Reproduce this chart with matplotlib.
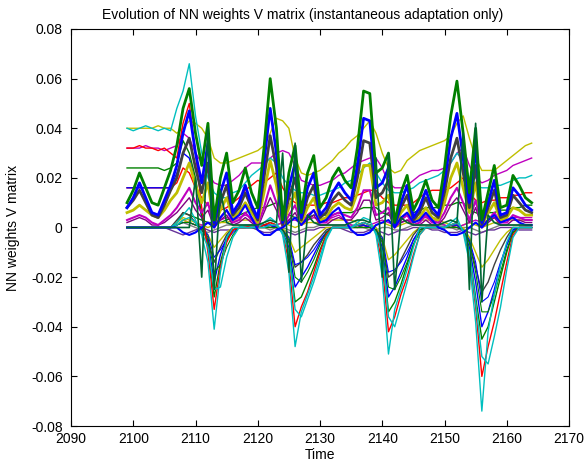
import numpy as np
import matplotlib
matplotlib.use("Agg")
import matplotlib.pyplot as plt

# -----------------------------------------------------
# DATA  (weights in units of 1e-3, one value per time step)
# -----------------------------------------------------
time = np.arange(2099, 2165)
UNIT = 1e-3

# oscillating weights (thick)
green_osc = [10, 15, 22, 16, 10, 9, 16, 23, 33, 48, 56,
             38, 25, 42, 3, 20, 30, 10, 15, 24, 14, 8,
             32, 60, 40, 3, 22, 33, 6, 22, 29, 8, 12,
             20, 24, 19, 16, 32, 55, 54, 22, 24, 30, 2,
             14, 21, 7, 12, 19, 11, 8, 24, 45, 59, 38,
             14, 40, 3, 14, 25, 8, 9, 21, 17, 12, 10]
blue_osc = [8, 12, 18, 12, 6, 5, 11, 17, 25, 38, 47,
            30, 18, 34, 2, 14, 22, 6, 10, 17, 9, 4,
            26, 48, 30, 2, 16, 26, 4, 16, 22, 5, 8,
            14, 18, 14, 11, 25, 44, 43, 16, 18, 24, 1,
            10, 17, 4, 8, 15, 8, 5, 18, 36, 46, 28,
            10, 32, 2, 10, 19, 5, 6, 16, 13, 9, 7]
gray_osc = [8, 11, 15, 10, 5, 4, 9, 15, 20, 30, 36,
            24, 14, 26, 1, 10, 17, 5, 8, 14, 8, 3,
            20, 37, 24, 1, 12, 20, 3, 12, 17, 4, 6,
            11, 14, 11, 9, 20, 35, 34, 12, 14, 19, 1,
            8, 13, 3, 6, 12, 6, 4, 14, 28, 36, 22,
            8, 25, 1, 8, 15, 4, 5, 13, 10, 7, 6]
yellow_osc = [6, 7, 9, 7, 5, 4, 7, 11, 14, 20, 26,
              17, 10, 18, 1, 7, 12, 4, 6, 10, 6, 2,
              14, 27, 17, 1, 8, 14, 2, 8, 12, 3, 4,
              8, 10, 8, 7, 14, 25, 25, 9, 10, 13, 1,
              6, 9, 2, 4, 8, 4, 3, 10, 20, 26, 16,
              6, 18, 1, 6, 10, 3, 4, 8, 7, 5, 5]
magenta_osc = [3, 4, 5, 4, 2, 1, 3, 5, 8, 12, 16,
               10, 6, 10, 0, 4, 7, 2, 3, 6, 3, 1,
               8, 17, 10, 0, 5, 9, 1, 5, 7, 2, 2,
               5, 6, 5, 4, 8, 15, 15, 5, 6, 8, 0,
               3, 5, 1, 2, 5, 2, 2, 6, 12, 16, 10,
               3, 11, 0, 3, 6, 2, 2, 5, 4, 3, 3]
purple_osc = [2, 3, 4, 3, 1, 1, 2, 4, 6, 9, 12,
              7, 4, 7, 0, 3, 5, 1, 2, 4, 2, 0,
              6, 12, 7, 0, 3, 6, 1, 3, 5, 1, 1,
              3, 4, 3, 3, 6, 11, 11, 3, 4, 6, 0,
              2, 3, 1, 1, 3, 1, 1, 4, 9, 12, 7,
              2, 8, 0, 2, 4, 1, 1, 3, 3, 2, 2]
blue_low = [0, 0, 0, 0, 0, 0, 0, 0, 0, -2, -3,
            -2, 0, 2, 0, 4, 7, 3, 5, 9, 4, -1,
            -3, -3, -1, 0, 2, 4, 1, 4, 7, 2, 3,
            6, 8, 3, -1, -3, -3, -2, 1, 2, 3, 0,
            4, 6, 2, 3, 6, 3, 0, -1, -3, -3, -2,
            0, 2, 0, 3, 5, 2, 3, 4, 2, 1, 1]

# slowly drifting weights
cyan_slow = [40, 39, 40, 41, 40, 39, 40, 39, 48, 55, 66,
             45, 30, 20, 14, 12, 12, 14, 15, 18, 21, 23,
             25, 28, 26, 20, 17, 15, 14, 14, 13, 13, 14,
             15, 16, 18, 19, 21, 24, 26, 22, 18, 15, 14,
             14, 15, 16, 18, 19, 20, 21, 23, 26, 30, 27,
             20, 17, 16, 16, 17, 17, 18, 19, 20, 20, 21]
yellow_slow = [40, 40, 40, 40, 40, 41, 40, 40, 38, 40, 43,
               42, 40, 36, 28, 26, 26, 27, 28, 29, 30, 31,
               33, 38, 44, 43, 40, 28, 22, 21, 22, 23, 25,
               27, 30, 32, 35, 37, 40, 43, 38, 30, 24, 22,
               23, 27, 29, 31, 32, 33, 34, 35, 37, 42, 45,
               36, 28, 23, 23, 23, 25, 27, 29, 31, 33, 34]
magenta_slow = [32, 32, 32, 33, 32, 32, 31, 32, 33, 38, 36,
                30, 26, 22, 18, 17, 17, 19, 21, 24, 26, 26,
                26, 28, 30, 31, 30, 25, 19, 18, 17, 17, 18,
                19, 21, 22, 24, 26, 27, 28, 28, 24, 18, 16,
                16, 17, 19, 21, 22, 23, 23, 24, 26, 30, 32,
                25, 20, 18, 19, 21, 22, 23, 25, 26, 27, 28]
red_slow = [16, 16, 16, 16, 16, 16, 16, 16, 18, 24, 22,
            16, 12, 9, 7, 7, 8, 10, 12, 15, 17, 19,
            18, 20, 22, 16, 12, 10, 9, 9, 9, 9, 10,
            10, 11, 12, 12, 13, 14, 15, 15, 12, 10, 9,
            9, 9, 10, 12, 14, 15, 15, 15, 16, 18, 20,
            14, 11, 10, 11, 11, 12, 12, 13, 13, 14, 14]
green_slow = [0, 0, 0, 0, 0, 0, 0, 0, 2, 6, 5,
              4, 3, 2, 2, 2, 3, 4, 5, 6, 7, 8,
              8, 9, 10, 7, 5, 4, 4, 4, 5, 5, 5,
              5, 6, 6, 6, 7, 8, 8, 8, 6, 5, 4,
              4, 5, 6, 7, 8, 8, 8, 9, 9, 10, 10,
              7, 6, 5, 6, 6, 7, 7, 8, 8, 9, 9]

# weights with deep negative excursions
cyan_dip = [0, 0, 0, 0, 0, 0, 0, 0, 2, 5, 8,
            3, -3, -14, -41, -18, -4, 0, 0, 1, 1, 0,
            2, 4, 2, -3, -18, -48, -34, -27, -20, -12, -4,
            0, 0, 0, 0, 2, 4, 3, -3, -20, -51, -33,
            -25, -17, -8, 0, 0, 0, 0, 0, 2, 4, -2,
            -14, -38, -74, -42, -27, -15, -6, 0, 0, 0, 0]
cyan_dip2 = [0, 0, 0, 0, 0, 0, 0, 0, 1, 3, 4,
             2, -2, -8, -25, -24, -12, -4, 0, 0, 0, 0,
             0, 1, 1, -2, -10, -33, -36, -29, -22, -14, -5,
             0, 0, 0, 0, 1, 2, 1, -2, -10, -36, -40,
             -31, -22, -12, -3, 0, 0, 0, 0, 1, 2, -1,
             -10, -30, -52, -55, -44, -32, -17, -4, 0, 0, 0]
red_dip = [32, 32, 33, 32, 32, 31, 32, 30, 28, 42, 50,
           30, 8, -10, -33, -16, -6, -1, 0, 0, 1, 0,
           1, 2, 1, -2, -14, -40, -32, -26, -18, -10, -3,
           0, 0, 0, 0, 1, 2, 1, -2, -15, -42, -36,
           -27, -20, -11, -3, 0, 0, 0, 0, 1, 2, -1,
           -12, -32, -60, -48, -38, -26, -14, -3, 0, 0, 0]
green_dip = [24, 24, 24, 24, 24, 24, 23, 24, 26, 35, 30,
             20, 5, -8, -28, -14, -5, -1, 0, 0, 0, 0,
             1, 2, 1, -2, -10, -30, -28, -22, -16, -9, -3,
             0, 0, 0, 0, 1, 2, 1, -1, -10, -34, -30,
             -23, -15, -7, -1, 0, 0, 0, 0, 1, 2, -1,
             -10, -28, -45, -40, -30, -20, -10, -2, 0, 0, 0]
green_dip2 = [0, 0, 0, 0, 0, 0, 0, 0, 1, 2, 2,
              1, 0, -4, -18, -15, -8, -3, 0, 0, 0, 0,
              0, 0, 0, -1, -5, -20, -22, -18, -13, -7, -2,
              0, 0, 0, 0, 0, 0, 0, -1, -5, -24, -25,
              -20, -14, -7, -2, 0, 0, 0, 0, 0, 0, -1,
              -6, -18, -34, -34, -27, -18, -9, -2, 0, 0, 0]
blue_dip = [16, 16, 16, 16, 16, 16, 16, 16, 22, 30, 28,
            18, 4, -6, -22, -11, -4, -1, 0, 0, 0, 0,
            1, 1, 0, -2, -8, -24, -20, -16, -11, -6, -2,
            0, 0, 0, 0, 1, 1, 0, -1, -8, -28, -24,
            -18, -12, -5, -1, 0, 0, 0, 0, 1, 1, -1,
            -8, -22, -40, -34, -25, -15, -7, -1, 0, 0, 0]
blue_dip2 = [0, 0, 0, 0, 0, 0, 0, 0, 1, 2, 2,
             1, 0, -3, -12, -9, -5, -2, 0, 0, 0, 0,
             0, 0, 0, -1, -4, -15, -14, -12, -9, -5, -2,
             0, 0, 0, 0, 0, 0, 0, -1, -4, -18, -17,
             -14, -10, -5, -1, 0, 0, 0, 0, 0, 0, -1,
             -5, -14, -30, -28, -22, -14, -7, -1, 0, 0, 0]
gray_dip = [0, 0, 0, 0, 0, 0, 0, 0, 3, 6, 5,
            2, -1, -5, -14, -8, -3, 0, 0, 0, 0, 0,
            0, 1, 0, -1, -6, -16, -14, -11, -7, -4, -1,
            0, 0, 0, 0, 0, 1, 0, -1, -6, -20, -18,
            -13, -8, -3, 0, 0, 0, 0, 0, 0, 1, -1,
            -6, -16, -26, -22, -15, -9, -4, 0, 0, 0, 0]
yellow_dip = [0, 0, 0, 0, 0, 0, 0, 0, 1, 3, 2,
              1, 0, -3, -8, -5, -2, 0, 0, 0, 0, 0,
              0, 0, 0, 0, -4, -10, -8, -6, -4, -2, 0,
              0, 0, 0, 0, 0, 0, 0, 0, -4, -13, -11,
              -8, -5, -2, 0, 0, 0, 0, 0, 0, 0, 0,
              -4, -10, -16, -13, -9, -5, -2, 0, 0, 0, 0]

# fast spiking weight
green_spike = [0, 0, 0, 0, 0, 0, 0, 0, 0, 0, 0,
               20, -20, 40, -25, 15, 2, 1, 1, 1, 1, 1,
               2, 3, 2, 30, -18, 34, -22, 5, 2, 1, 1,
               1, 1, 1, 2, 3, 3, 2, 28, -20, 30, -25,
               4, 2, 1, 1, 1, 1, 1, 2, 3, 2, 38,
               -25, 42, -30, 5, 2, 1, 1, 1, 1, 1, 1]

# weights staying close to zero
zero_a = [0, 0, 0, 0, 0, 0, 0, 0, 1, 2, 1,
          0, -1, -2, -1, 0, 1, 1, 1, 1, 1, 0,
          0, -1, 0, 0, -1, -2, -1, 0, 0, 1, 1,
          1, 1, 1, 1, 1, 0, -1, -1, 0, 0, -1,
          -1, 0, 1, 1, 1, 1, 1, 1, 0, -1, 0,
          0, -1, -2, -1, 0, 1, 1, 1, 1, 1, 1]
zero_b = [0, 0, 0, 0, 0, 0, 0, 0, 2, 4, 3,
          2, 1, 0, 1, 2, 2, 3, 3, 3, 3, 2,
          1, 0, 1, 2, 1, 0, 1, 2, 2, 2, 3,
          3, 3, 3, 3, 2, 1, 0, 1, 2, 1, 0,
          1, 2, 2, 3, 3, 3, 3, 2, 1, 0, 1,
          2, 1, 0, 1, 2, 2, 3, 3, 3, 3, 3]
zero_c = [0, 0, 0, 0, 0, 0, 0, -1, -2, -3, -2,
          -1, 0, -1, -2, -1, -1, -1, 0, 0, 0, -1,
          -2, -2, -1, -1, -2, -3, -2, -1, -1, 0, 0,
          0, 0, -1, -2, -2, -2, -1, -1, -2, -3, -2,
          -1, -1, 0, 0, 0, -1, -1, -2, -2, -2, -1,
          -2, -3, -2, -1, -1, 0, 0, 0, -1, -1, -1]
zero_d = [0, 0, 0, 0, 0, 0, 0, 0, 1, 3, 2,
          1, 1, 2, 1, 3, 4, 3, 4, 5, 4, 2,
          1, 0, 1, 2, 3, 3, 2, 3, 4, 3, 3,
          4, 5, 3, 1, 0, 0, 1, 2, 3, 2, 1,
          2, 3, 3, 4, 4, 3, 2, 1, 0, 0, 1,
          2, 3, 2, 3, 4, 3, 3, 4, 4, 4, 4]

x_ticks = [2090, 2100, 2110, 2120, 2130, 2140, 2150, 2160, 2170]
y_ticks = [-0.08, -0.06, -0.04, -0.02, 0, 0.02, 0.04, 0.06, 0.08]
y_tick_labels = ["-0.08", "-0.06", "-0.04", "-0.02", "0",
                 "0.02", "0.04", "0.06", "0.08"]

# MATLAB-like colour order
B = (0, 0, 1)
G = (0, 0.5, 0)
R = (1, 0, 0)
C = (0, 0.75, 0.75)
M = (0.75, 0, 0.75)
Y = (0.75, 0.75, 0)
K = (0.25, 0.25, 0.25)

# drawing order: first item is at the bottom
series = [
    (yellow_slow, Y, 1.0), (magenta_slow, M, 1.0), (red_slow, R, 1.0),
    (green_slow, G, 1.0), (cyan_slow, C, 1.0),
    (zero_a, (0.5, 0.5, 0.5), 1.0), (zero_b, Y, 1.0),
    (zero_c, (0.4, 0.2, 0.6), 1.0), (zero_d, M, 1.0),
    (yellow_dip, Y, 1.0), (gray_dip, K, 1.0), (blue_dip2, B, 0.8),
    (blue_dip, B, 1.0), (green_dip2, G, 0.8), (green_dip, G, 1.0),
    (red_dip, R, 1.0), (cyan_dip2, C, 1.0), (cyan_dip, C, 1.0),
    (purple_osc, (0.5, 0, 0.5), 1.0),
    (magenta_osc, M, 1.5), (yellow_osc, Y, 2.0), (gray_osc, K, 2.0),
    (blue_low, B, 1.5), (blue_osc, B, 2.0), (green_osc, G, 2.0),
    (green_spike, (0, 0.4, 0.2), 1.2),
]


def main():
    plt.rcParams["font.family"] = ["Liberation Sans", "DejaVu Sans"]
    fig = plt.figure(figsize=(5.86, 4.62), dpi=100)
    ax = fig.add_axes([71 / 586, 36 / 462, 498 / 586, 397 / 462])

    for values, color, lw in series:
        assert len(values) == len(time)
        ax.plot(time, np.array(values) * UNIT, color=color, linewidth=lw)

    ax.set_xlim(2090, 2170)
    ax.set_ylim(-0.08, 0.08)
    ax.set_xticks(x_ticks)
    ax.set_yticks(y_ticks)
    ax.set_yticklabels(y_tick_labels)
    ax.tick_params(direction="in", top=True, right=True, length=4,
                   width=0.8, labelsize=10)
    ax.tick_params(axis="y", pad=6)
    ax.tick_params(axis="x", pad=4)
    for sp in ax.spines.values():
        sp.set_linewidth(0.8)

    ax.set_title("Evolution of NN weights V matrix (instantaneous adaptation only)",
                 fontsize=10, x=0.466, pad=7)
    ax.set_xlabel("Time", fontsize=10, labelpad=2)
    ax.set_ylabel("NN weights V matrix", fontsize=10, labelpad=8)

    fig.savefig("out.png", dpi=100)


if __name__ == "__main__":
    main()
